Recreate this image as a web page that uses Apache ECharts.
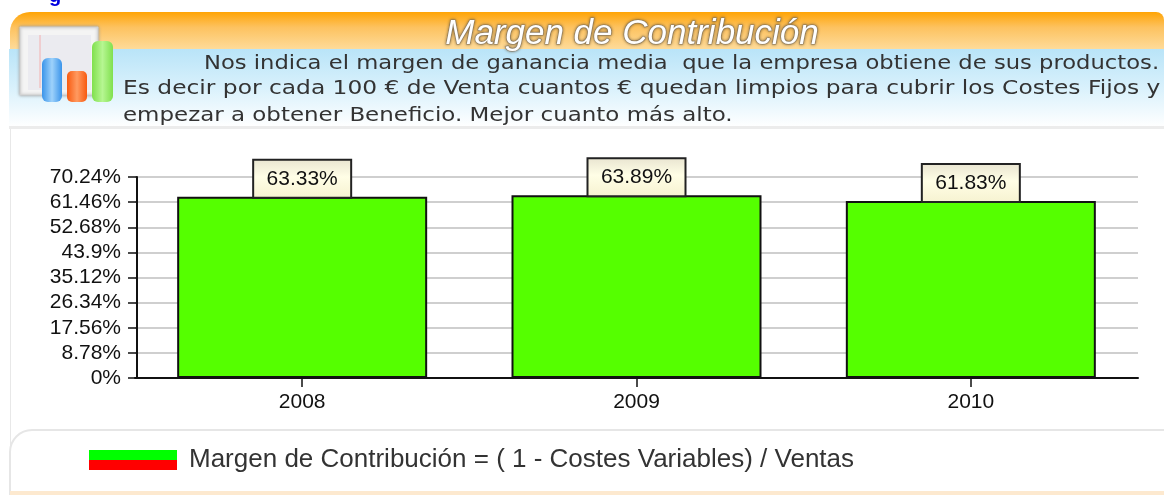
<!DOCTYPE html>
<html><head><meta charset="utf-8">
<style>html,body{margin:0;padding:0;background:#fff}#c{width:1164px;height:495px}</style>
<script src="https://cdn.jsdelivr.net/npm/echarts@6/dist/echarts.min.js"></script>
</head><body><div id="c"></div>
<script>
const categories = ['2008','2009','2010'];
const values = [63.33,63.89,61.83];
const axisMax = 70.24;
const axisStep = 8.78;
const seriesName = 'Margen de Contribución = ( 1 - Costes Variables) / Ventas';
const titleText = 'Margen de Contribución';
const introLines = [
 'Nos indica el margen de ganancia media  que la empresa obtiene de sus productos.',
 'Es decir por cada 100 € de Venta cuantos € quedan limpios para cubrir los Costes Fijos y',
 'empezar a obtener Beneficio. Mejor cuanto más alto.'
];
const G = echarts.graphic;
const vgrad = (stops)=>new G.LinearGradient(0,0,0,1,stops.map(s=>({offset:s[0],color:s[1]})));
const chart = echarts.init(document.getElementById('c'),null,{renderer:'canvas'});
const introText = (t,x,y,sx)=>({type:'text',x,y,scaleX:sx,z:5,style:{text:t,fontFamily:'DejaVu Sans',fontSize:20,fill:'#333'}});
chart.setOption({
 animation:false,
 title:{text:titleText,left:627,top:12,textAlign:'center',
  textStyle:{fontFamily:'Liberation Sans',fontStyle:'italic',fontWeight:'normal',fontSize:35,color:'#fff',textBorderColor:'#9a8a70',textBorderWidth:1.2,textShadowColor:'rgba(90,70,40,0.7)',textShadowBlur:3}},
 graphic:[
  {type:'text',x:49,y:-14,z:5,style:{text:'g',fontFamily:'Liberation Sans',fontWeight:'bold',fontSize:20,fill:'#0000e0'}},
  {type:'rect',z:-5,shape:{x:10,y:120,width:1,height:370},style:{fill:'#e8e8e8'}},
  {type:'rect',z:-4,shape:{x:10,y:12,width:1154,height:38,r:[20,8,0,0]},style:{fill:vgrad([[0,'#ffa405'],[0.4,'#fdc25f'],[1,'#fedc9c']])}},
  {type:'rect',z:-4,shape:{x:9,y:49,width:1155,height:78},style:{fill:vgrad([[0,'#b9e4f8'],[0.5,'#d9f1fc'],[1,'#ffffff']])}},
  {type:'rect',z:-4,shape:{x:9,y:126,width:1155,height:3},style:{fill:'#ececec'}},
  {type:'rect',z:-3,shape:{x:10,y:430,width:1175,height:80,r:[22,0,0,0]},style:{fill:'#fff',stroke:'#e6e6e6',lineWidth:2}},
  {type:'rect',z:-2,shape:{x:10,y:491,width:1154,height:4},style:{fill:'#fde9cf'}},
  {type:'rect',z:6,shape:{x:20,y:27,width:78,height:68},style:{fill:'#f4f4f4',stroke:'#d0d0d0',lineWidth:1,shadowBlur:3,shadowColor:'#999'}},
  {type:'rect',z:6,shape:{x:28,y:35,width:63,height:55},style:{fill:'#ebebf0'}},
  {type:'line',z:6,shape:{x1:40,y1:35,x2:40,y2:88},style:{stroke:'#f3b0b0',lineWidth:1}},
  {type:'rect',z:7,shape:{x:42,y:58,width:20,height:44,r:6},style:{fill:new G.LinearGradient(0,0,1,0,[{offset:0,color:'#3a94ea'},{offset:.5,color:'#9ed2fb'},{offset:1,color:'#3a94ea'}])}},
  {type:'rect',z:7,shape:{x:67,y:71,width:20,height:31,r:5},style:{fill:new G.LinearGradient(0,0,1,0,[{offset:0,color:'#f85a10'},{offset:.5,color:'#ff9a60'},{offset:1,color:'#f85a10'}])}},
  {type:'rect',z:7,shape:{x:92,y:41,width:21,height:61,r:6},style:{fill:new G.LinearGradient(0,0,1,0,[{offset:0,color:'#80e04e'},{offset:.5,color:'#b6f692'},{offset:1,color:'#80e04e'}])}},
  introText(introLines[0],204,54,1.133),
  introText(introLines[1],123,79,1.167),
  introText(introLines[2],123,106,1.147)
 ],
 legend:{left:84,top:442,itemWidth:88,itemHeight:20,itemGap:12,selectedMode:false,
  data:[{name:seriesName,icon:'rect',itemStyle:{color:new G.LinearGradient(0,0,0,1,[{offset:0,color:'#00ff00'},{offset:.5,color:'#00ff00'},{offset:.5,color:'#ff0000'},{offset:1,color:'#ff0000'}]),borderWidth:0}}],
  textStyle:{fontFamily:'Liberation Sans',fontSize:26,color:'#333',padding:[0,0,0,7]}},
 grid:{left:135,top:177,width:1003,height:201},
 xAxis:{type:'category',data:categories,
  axisLine:{lineStyle:{color:'#111',width:2}},
  axisTick:{show:true,alignWithLabel:true,length:9,lineStyle:{color:'#111',width:1.5}},
  axisLabel:{fontFamily:'Liberation Sans',fontSize:21,color:'#111',margin:14},
  splitLine:{show:false}},
 yAxis:{type:'value',min:0,max:axisMax,interval:axisStep,offset:-2,
  axisLine:{show:true,lineStyle:{color:'#111',width:2}},
  axisTick:{show:true,length:9,lineStyle:{color:'#111',width:1.5}},
  axisLabel:{fontFamily:'Liberation Sans',fontSize:21,color:'#111',margin:16,padding:[2,0,0,0],formatter:v=>(+v.toFixed(2))+'%'},
  splitLine:{show:true,lineStyle:{color:'#cfcfcf',width:2}}},
 series:[{name:seriesName,type:'bar',data:values,barWidth:250,
  itemStyle:{color:'#55ff00',borderColor:'#111',borderWidth:2},
  label:{show:true,position:'top',distance:0,formatter:p=>p.value+'%',fontFamily:'Liberation Sans',fontSize:21,color:'#111',
   width:96,height:36,align:'center',lineHeight:36,
   backgroundColor:vgrad([[0,'#e8e4d0'],[0.45,'#fffee6'],[1,'#f6f2d0']]),borderColor:'#222',borderWidth:2}}]
});
</script></body></html>
